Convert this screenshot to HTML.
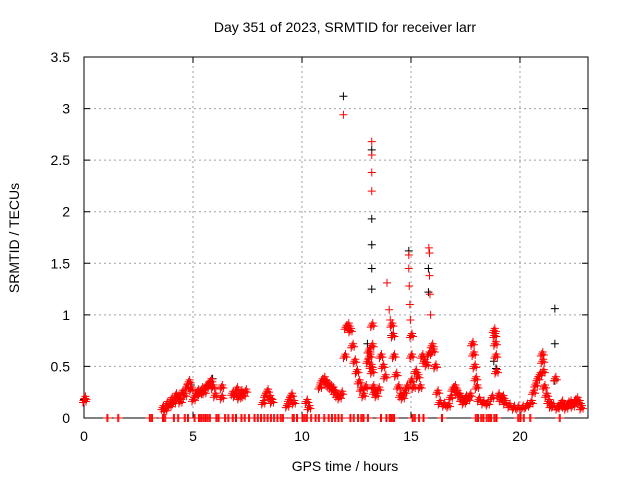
<!DOCTYPE html>
<html><head><meta charset="utf-8"><style>
body{margin:0;background:#fff;}
svg{display:block;font-family:"Liberation Sans",sans-serif;}
</style></head><body>
<svg id="chart" width="640" height="480" viewBox="0 0 640 480">
<text x="345" y="32" text-anchor="middle" font-size="14">Day 351 of 2023, SRMTID for receiver larr</text>
<g id="grid"></g>
<g id="axes"></g>
<g id="marks"></g>
<text x="345" y="471" text-anchor="middle" font-size="14">GPS time / hours</text>
<text transform="translate(19,238) rotate(-90)" text-anchor="middle" font-size="14">SRMTID / TECUs</text>
</svg>
<script>
const xTicks=[0,5,10,15,20];
const yTicks=[0,0.5,1,1.5,2,2.5,3,3.5];
const yTickLabels=["0","0.5","1","1.5","2","2.5","3","3.5"];
const blackT=[0,4.9,5.9,11.9,12.2,13.2,13.2,13.2,13.2,13.2,14.9,15.8,15.8,18.8,18.9,21.6,21.6,21.6,13.0,14.1];
const blackV=[0.18,0.32,0.38,3.12,0.85,2.6,1.93,1.68,1.45,1.25,1.62,1.45,1.22,0.55,0.48,1.06,0.72,0.36,0.72,0.8];
const redT=[0,0.02,3.6,3.7,3.8,3.9,4.0,4.1,4.2,4.3,4.4,4.5,4.6,4.7,4.8,4.9,5.0,5.1,5.2,5.3,5.4,5.5,5.6,5.7,5.8,5.9,6.0,6.3,6.3,6.8,6.9,7.0,7.1,7.2,7.3,7.4,8.2,8.3,8.4,8.5,8.6,9.3,9.4,9.5,9.6,10.2,10.3,10.8,10.9,11.0,11.1,11.2,11.3,11.4,11.5,11.6,11.7,11.8,11.9,11.95,12.0,12.1,12.2,12.3,12.4,12.5,12.6,12.7,12.8,12.9,13.0,13.05,13.1,13.15,13.2,13.2,13.2,13.2,13.2,13.2,13.2,13.25,13.3,13.4,13.5,13.6,13.7,13.8,13.9,14.0,14.05,14.1,14.15,14.2,14.3,14.4,14.5,14.6,14.7,14.8,14.9,14.9,14.92,14.95,14.97,15.0,15.0,15.0,15.1,15.2,15.3,15.4,15.5,15.6,15.7,15.8,15.82,15.85,15.85,15.87,15.9,15.95,16.0,16.1,16.2,16.3,16.5,16.7,16.8,16.9,17.0,17.1,17.2,17.3,17.4,17.5,17.6,17.7,17.8,17.85,17.9,17.95,18.0,18.1,18.3,18.5,18.7,18.8,18.82,18.85,18.87,18.9,19.0,19.1,19.2,19.3,19.5,19.7,19.9,20.1,20.3,20.5,20.6,20.7,20.8,20.9,21.0,21.02,21.05,21.1,21.2,21.3,21.4,21.5,21.6,21.7,21.8,21.9,22.0,22.1,22.2,22.3,22.4,22.5,22.6,22.7,22.8];
const redV=[0.17,0.19,0.1,0.08,0.14,0.12,0.18,0.15,0.22,0.2,0.16,0.25,0.22,0.3,0.35,0.28,0.18,0.22,0.26,0.24,0.28,0.25,0.3,0.33,0.36,0.3,0.22,0.3,0.2,0.24,0.22,0.28,0.2,0.25,0.22,0.26,0.15,0.22,0.26,0.2,0.16,0.12,0.18,0.22,0.15,0.16,0.1,0.3,0.36,0.38,0.34,0.32,0.3,0.28,0.25,0.22,0.2,0.24,2.94,0.6,0.88,0.9,0.85,0.7,0.55,0.45,0.35,0.28,0.22,0.3,0.55,0.65,0.6,0.5,2.68,2.55,2.38,2.2,0.9,0.7,0.45,0.3,0.25,0.22,0.28,0.6,0.5,0.4,1.31,1.05,0.95,0.9,0.8,0.6,0.42,0.3,0.22,0.2,0.25,0.3,1.58,1.45,1.28,1.1,0.95,0.8,0.6,0.36,0.3,0.45,0.4,0.3,0.6,0.55,0.52,0.62,1.65,1.6,1.38,1.2,1.0,0.7,0.65,0.5,0.25,0.15,0.13,0.12,0.2,0.28,0.3,0.25,0.22,0.18,0.15,0.2,0.18,0.22,0.72,0.62,0.5,0.38,0.3,0.18,0.15,0.14,0.2,0.85,0.8,0.72,0.6,0.45,0.22,0.18,0.2,0.15,0.12,0.1,0.1,0.1,0.12,0.15,0.25,0.32,0.38,0.42,0.62,0.55,0.45,0.3,0.22,0.16,0.12,0.12,0.38,0.1,0.12,0.15,0.12,0.1,0.14,0.15,0.12,0.16,0.18,0.15,0.1];
const zeroT=[1.05,1.55,3.0,3.1,3.6,3.7,4.1,4.3,4.6,4.75,5.05,5.25,5.35,5.45,5.55,5.65,5.75,6.05,6.15,6.45,6.6,6.8,6.95,7.2,7.35,7.55,7.8,7.95,8.1,8.25,8.4,8.55,8.7,8.85,9.0,9.1,9.55,9.6,9.75,10.0,10.1,10.2,10.4,10.6,10.75,11.0,11.2,11.35,11.5,11.65,11.8,12.2,12.35,12.55,12.7,12.8,13.0,13.6,13.85,14.0,14.05,14.1,14.2,15.05,15.15,15.35,15.55,16.4,17.95,18.05,18.2,18.3,18.45,18.55,18.65,18.8,18.9,19.9,20.0,20.15,20.45,21.8];
const X0=84,X1=588,Y0=418,Y1=57,XMAX=23.12,YMAX=3.5;
const xs=t=>X0+t/XMAX*(X1-X0);
const ys=v=>Y0-v/YMAX*(Y0-Y1);
const NS="http://www.w3.org/2000/svg";
function mk(tag,attrs,parent){const e=document.createElementNS(NS,tag);for(const k in attrs)e.setAttribute(k,attrs[k]);parent.appendChild(e);return e;}
const grid=document.getElementById('grid'),axes=document.getElementById('axes'),marks=document.getElementById('marks');
xTicks.forEach((t,i)=>{const x=xs(t);
 if(t>0){const g=mk('line',{x1:x,y1:Y0,x2:x,y2:Y1,stroke:'#a0a0a0','stroke-dasharray':'2,3'},grid);
 
 }
 const tk=mk('path',{d:`M${x},${Y0}v-6M${x},${Y1}v6`,stroke:'#000'},axes);
 
 
 const l=mk('text',{x:x,y:Y0+23,'text-anchor':'middle','font-size':14},axes);l.textContent=String(t);
 
 
});
yTicks.forEach((v,i)=>{const y=ys(v);
 if(v>0&&v<YMAX){const g=mk('line',{x1:X0,y1:y,x2:X1,y2:y,stroke:'#a0a0a0','stroke-dasharray':'2,3'},grid);
 
 }
 const tk=mk('path',{d:`M${X0},${y}h6M${X1},${y}h-6`,stroke:'#000'},axes);
 
 
 const l=mk('text',{x:X0-14,y:y+5,'text-anchor':'end','font-size':14},axes);l.textContent=yTickLabels[i];
 
 
});
const fr=mk('rect',{x:X0,y:Y1,width:X1-X0,height:Y0-Y1,fill:'none',stroke:'#000'},axes);


function plus(t,v,c,dx,dy){const x=xs(t)+dx,y=ys(v)+dy;
 const p=mk('path',{d:`M${x-4},${y}h8M${x},${y-4}v8`,stroke:c,'stroke-width':1},marks);
 
 }
blackT.forEach((t,i)=>plus(t,blackV[i],'#000',0,0));
redT.forEach((t,i)=>{const v=redV[i];
 plus(t,v,'#f00',0,0);
 if(v<0.95){plus(t,v,'#f00',1,-2);plus(t,v,'#f00',-1,2);plus(t,v,'#f00',2,1);}
});
zeroT.forEach(t=>{plus(t,0,'#f00',0,0);plus(t,0,'#f00',1,0);});
</script>
</body></html>
